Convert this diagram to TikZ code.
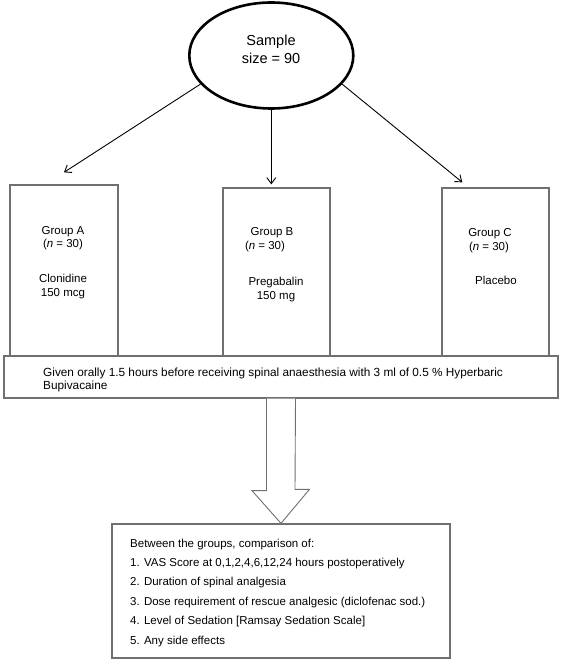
\documentclass[tikz,border=0pt]{standalone}
\usepackage{fontspec}
\setmainfont{Liberation Sans}
\usetikzlibrary{arrows.meta, shapes.geometric, positioning}
\definecolor{boxgray}{HTML}{707070}

\begin{document}
\begin{tikzpicture}[
        x=1pt, y=-1pt, >={Straight Barb[length=6pt,width=9pt]},
        every node/.style={inner sep=0pt},
        startnode/.style={draw, ellipse, line width=2.6pt, minimum width=164pt, minimum height=106pt},
        groupbox/.style={draw=boxgray, line width=1.3pt, minimum width=107pt, minimum height=168pt},
        widebox/.style={draw=boxgray, line width=1.3pt, fill=white},
        grptext/.style={anchor=base, align=center, font=\fontsize{11.5}{14}\selectfont},
        bodytext/.style={anchor=base west, align=left},
        hollow/.style={draw=boxgray, line width=0.9pt, fill=white, line join=miter},
        ]

        \useasboundingbox (0,0) rectangle (561,660);

        % start of the trial
        \node[startnode]            (sample)   at (271.3,55.5) {};
        \node[grptext, font=\fontsize{14.5}{18}\selectfont] (sampletxt) at (271,63.2) {Sample\\size = 90};

        % the three groups
        \node[groupbox, minimum width=108pt, minimum height=171pt] (grpA) at (64,270.5) {};
        \node[groupbox]             (grpB)     at (276.5,272) {};
        \node[groupbox]             (grpC)     at (495.5,272) {};

        \node[grptext]  (grpA-name)  at (63,234)  {Group A};
        \node[grptext]  (grpA-n)     at (63,247)  {(\textit{n} = 30)};
        \node[grptext]  (grpA-drug)  at (63,296)  {Clonidine\\150 mcg};
        \node[grptext]  (grpB-name)  at (272,235) {Group B};
        \node[grptext]  (grpB-n)     at (265,249) {(\textit{n} = 30)};
        \node[grptext]  (grpB-drug)  at (276,299) {Pregabalin\\150 mg};
        \node[grptext]  (grpC-name)  at (490,236) {Group C};
        \node[grptext]  (grpC-n)     at (489,250) {(\textit{n} = 30)};
        \node[grptext]  (grpC-drug)  at (496,284) {Placebo};

        % premedication and outcomes
        \node[widebox, minimum width=554pt, minimum height=42pt] (given) at (281,377) {};
        \node[bodytext, font=\fontsize{11.8}{13}\selectfont] (giventxt) at (43,389)
            {Given orally 1.5 hours before receiving spinal anaesthesia with 3 ml of 0.5 \% Hyperbaric\\Bupivacaine};

        \node[widebox, minimum width=338pt, minimum height=134pt] (outcome) at (281,591) {};
        \node[bodytext, font=\fontsize{11.5}{19.4}\selectfont] (outcometxt) at (130,644)
            {Between the groups, comparison of:\\
             1. VAS Score at 0,1,2,4,6,12,24 hours postoperatively\\
             2. Duration of spinal analgesia\\
             3. Dose requirement of rescue analgesic (diclofenac sod.)\\
             4. Level of Sedation [Ramsay Sedation Scale]\\
             5. Any side effects};

        % arrow ends
        \coordinate (tipA) at ([yshift=12pt]grpA.north);
        \path (sample.south |- grpB.north) ++(0pt,3pt) coordinate (tipB);
        \coordinate (tipC) at ([xshift=21pt,yshift=5pt]grpC.north west);

        \path[->, line width=0.9pt]
        (sample.202) edge (tipA)
        (sample.south) edge (tipB)
        (sample.338) edge (tipC);

        % hollow arrow
        \draw[hollow] ([xshift=-14.5pt]given.south) -- ++(0,92) -- ++(-14.5,0)
            -- (outcome.north) -- ([xshift=28.5pt,yshift=34pt]outcome.north) -- ++(-14.5,0)
            -- ([xshift=14.5pt]given.south);
      \end{tikzpicture}
\end{document}
